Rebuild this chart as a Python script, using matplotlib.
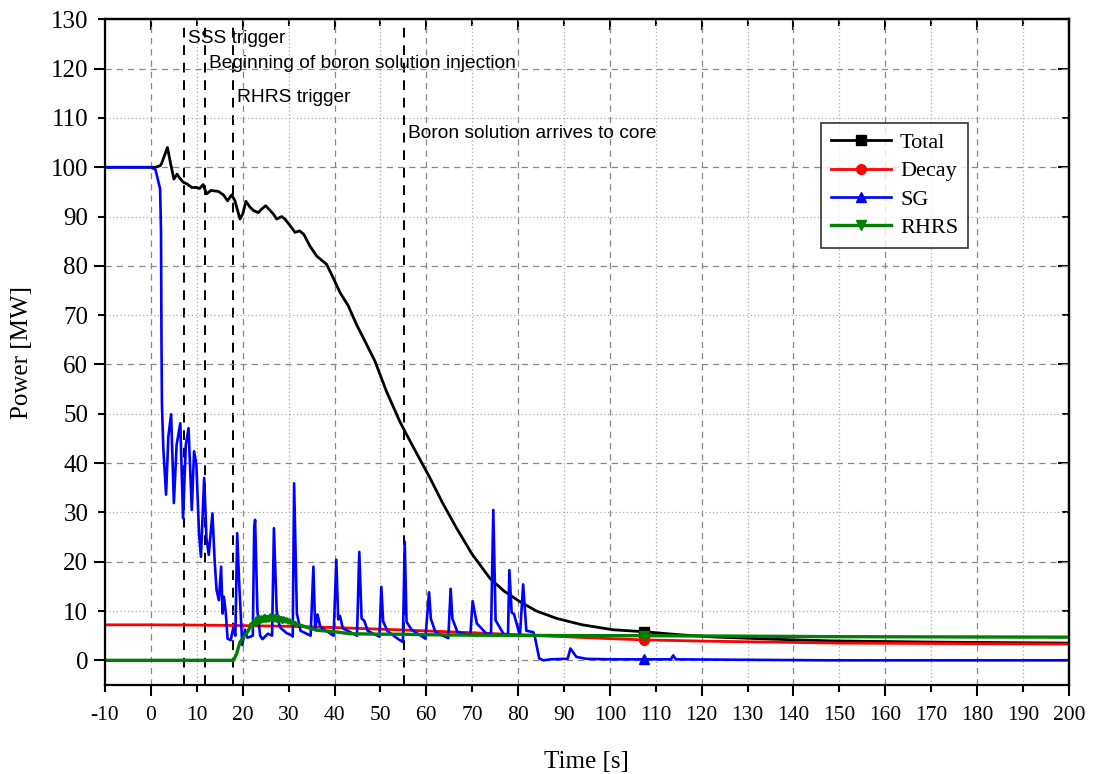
import numpy as np
import matplotlib
matplotlib.use('Agg')
import matplotlib.pyplot as plt
from matplotlib.ticker import MultipleLocator, FuncFormatter

# Total power
total_t = [-10, 0, 1, 2, 2.3, 3, 3.6, 4.3, 5, 5.7,
           6.2, 7, 7.9, 8.9, 9.9, 10.6, 11.4, 12.1, 13.1, 14.7,
           15.8, 16.7, 17.6, 18.3, 19.4, 20, 20.7, 21.6, 22.4, 23.4,
           24.1, 25, 26, 26.7, 27.4, 28.5, 29.2, 30.3, 31.4, 32.4,
           33.3, 34.6, 36.1, 38.3, 39.7, 41.2, 43, 44.8, 46.6, 48.8,
           51.3, 54.2, 55.3, 58, 60.8, 63.5, 66.6, 70, 73.9, 77,
           80.4, 84, 88.4, 94, 100.7, 107.5, 115, 122.5, 135, 148,
           170, 200]
total_v = [100, 100, 100, 100.3, 100.7, 102.5, 104, 100.7, 97.6, 98.6,
           97.9, 97, 96.6, 95.9, 95.9, 95.7, 96.5, 94.6, 95.3, 95.1,
           94.4, 93.2, 94.4, 93.2, 89.5, 90.5, 93.1, 91.9, 91.2, 90.8,
           91.5, 92.2, 91.2, 90.5, 89.5, 90, 89.5, 88.2, 86.8, 87.1,
           86.4, 84.1, 82, 80.3, 77.6, 74.6, 71.9, 68.1, 64.8, 60.7,
           54.6, 48.5, 46.5, 41.8, 37, 32, 26.8, 21.5, 16.6, 14,
           11.9, 10, 8.5, 7.2, 6.2, 5.8, 5.2, 4.75, 4.3, 3.95,
           3.7, 3.5]

# Decay heat
decay_t = [-10, 0, 10, 20, 30, 40, 55, 70, 80, 85, 100, 107.5, 120, 150, 175, 200]
decay_v = [7.2, 7.2, 7.15, 7.05, 6.9, 6.65, 6.15, 5.6, 5.2, 5.0, 4.4, 4.15, 3.9, 3.5, 3.4, 3.3]

# Steam generator
sg_t = [-10, 0, 1.0, 2.0, 2.2, 2.3, 2.4, 2.7, 3.3, 3.8,
        4.4, 5.0, 5.6, 6.4, 7.0, 7.6, 8.2, 8.9, 9.4, 9.9,
        10.5, 10.9, 11.6, 12.1, 12.6, 13.4, 13.9, 14.3, 14.8, 15.3,
        15.6, 15.9, 16.3, 16.7, 17.4, 17.9, 18.4, 18.8, 19.2, 19.9,
        20.5, 21.0, 21.7, 22.2, 22.5, 22.7, 23.2, 23.8, 24.3, 25.5,
        26.4, 26.8, 27.4, 28.1, 29.6, 30.6, 30.9, 31.2, 31.8, 32.6,
        34.8, 35.4, 35.8, 36.3, 36.9, 39.8, 40.4, 40.8, 41.2, 41.8,
        44.9, 45.4, 45.9, 46.5, 47.2, 49.8, 50.2, 50.6, 51.5, 53.6,
        54.9, 55.3, 55.7, 56.8, 59.8, 60.6, 61.0, 62.0, 64.8, 65.3,
        65.7, 66.8, 69.6, 70.1, 71.0, 73.1, 74.1, 74.6, 75.1, 76.8,
        77.8, 78.1, 78.6, 79.1, 80.4, 81.1, 81.8, 83.3, 83.6, 84.6,
        85.5, 87.0, 89.9, 90.8, 91.4, 92.7, 94.9, 100.7, 107.5, 113.3,
        113.8, 114.4, 148, 200]
sg_v = [100, 100, 99.5, 95.6, 87, 65, 52, 43, 33.6, 45.4,
        49.9, 31.9, 43.7, 48.1, 28.8, 43.7, 47.1, 30.5, 42.4, 39.7,
        25.4, 21.0, 37.0, 24.8, 21.4, 29.8, 20.0, 14.3, 12.2, 19.0,
        9.5, 12.9, 9.8, 4.4, 4.1, 6.4, 5.0, 25.8, 16.3, 3.1,
        6.2, 4.6, 4.8, 5.0, 26.8, 28.5, 10.0, 5.0, 4.3, 5.4,
        5.0, 26.8, 10.0, 6.7, 5.5, 5.1, 4.8, 35.9, 9.5, 6.0,
        5.0, 19.0, 6.2, 9.3, 6.8, 5.0, 20.4, 8.3, 9.0, 6.5,
        5.0, 22.0, 8.5, 8.0, 6.0, 4.8, 14.9, 7.9, 6.0, 4.5,
        3.7, 24.1, 7.8, 6.2, 4.4, 13.8, 8.4, 5.7, 4.5, 14.5,
        8.4, 5.7, 5.2, 12.0, 7.5, 5.4, 5.4, 30.5, 8.1, 5.4,
        5.0, 18.3, 9.7, 9.4, 5.0, 15.4, 6.0, 5.7, 5.0, 0.4,
        0.0, 0.2, 0.3, 0.3, 2.4, 0.7, 0.3, 0.2, 0.2, 0.2,
        1.0, 0.2, 0.0, 0.0]

# Residual heat removal system
rhrs_t = [-10, 18, 18.7, 19.4, 20.5, 21.2,
          21.5, 21.8, 22.1, 22.4, 22.7, 23.0, 23.3, 23.6, 23.9, 24.2,
          24.5, 24.8, 25.1, 25.4, 25.7, 26.0, 26.3, 26.6, 26.9, 27.2,
          27.5, 27.8, 28.1, 28.4, 28.7, 29.0, 29.3, 29.6, 29.9, 30.2,
          30.5, 30.8, 31.1, 31.4, 31.7, 32.0,
          33, 36.1, 40, 43.4, 50, 54.2, 60, 70, 80, 100, 107.5, 130, 148, 200]
rhrs_v = [0, 0, 1.4, 3.7, 5.1, 6.0,
          6.6, 7.4, 6.8, 8.1, 7.2, 8.6, 7.5, 8.9, 7.7, 8.8,
          7.9, 9.1, 7.9, 8.9, 8.0, 9.2, 8.1, 9.0, 8.0, 9.2,
          7.9, 8.9, 8.0, 8.7, 7.7, 8.6, 7.8, 8.4, 7.6, 8.2,
          7.5, 7.9, 7.3, 7.7, 7.1, 7.3,
          7.0, 6.1, 5.8, 5.4, 5.3, 5.3, 5.2, 5.1, 5.05, 5.0, 5.0, 4.9, 4.8, 4.7]

# events (time in s, label, label height)
event_t = [7.25, 11.8, 17.9, 55.1]
event_labels = ['SSS trigger', 'Beginning of boron solution injection',
                'RHRS trigger', 'Boron solution arrives to core']
event_label_y = [126.2, 121.0, 114.2, 106.9]

marker_time = 107.5

serif = 'Liberation Serif'
sans = 'Liberation Sans'

fig = plt.figure(figsize=(10.94, 7.74), dpi=100)
ax = fig.add_axes([0.096, 0.115, 0.881, 0.86])

series = [
    (total_t, total_v, 'black', 's', 'Total', 2.0),
    (decay_t, decay_v, 'red', 'o', 'Decay', 2.0),
    (sg_t, sg_v, 'blue', '^', 'SG', 1.9),
    (rhrs_t, rhrs_v, 'green', 'v', 'RHRS', 2.4),
]
for t, v, c, m, lab, lw in series:
    idx = t.index(marker_time)
    ax.plot(t, v, color=c, lw=lw, marker=m, markersize=7, markevery=[idx], label=lab)

for x, lab, y in zip(event_t, event_labels, event_label_y):
    ax.axvline(x, color='black', ls=(0, (5, 4)), lw=1.4, zorder=1)
    ax.text(x + 0.9, y, lab, fontsize=13.8, family=sans, va='center', ha='left')

ax.set_xlim(-10, 200)
ax.set_ylim(-5, 130)

fmt = FuncFormatter(lambda val, pos: '%d' % round(val))
for axis in [ax.xaxis, ax.yaxis]:
    axis.set_major_locator(MultipleLocator(20))
    axis.set_minor_locator(MultipleLocator(10))
    axis.set_major_formatter(fmt)
    axis.set_minor_formatter(fmt)

ax.grid(which='major', color='#888888', ls=(0, (5, 4)), lw=0.9)
ax.grid(which='minor', color='#aaaaaa', ls=(0, (1, 2)), lw=0.9)

# bottom / left: outward ticks with labels, labels aligned for major and minor
ax.tick_params(which='both', direction='out', width=1.5)
ax.tick_params(which='major', length=8)
ax.tick_params(which='minor', length=5)
ax.tick_params(axis='x', which='major', labelsize=15.5, pad=7)
ax.tick_params(axis='x', which='minor', labelsize=15.5, pad=10)
ax.tick_params(axis='y', which='major', labelsize=18, pad=4)
ax.tick_params(axis='y', which='minor', labelsize=18, pad=7)
for lab in ax.get_xticklabels(which='both') + ax.get_yticklabels(which='both'):
    lab.set_family(serif)

# top / right: inward ticks, no labels
top = ax.secondary_xaxis('top')
right = ax.secondary_yaxis('right')
for sec, axis in [(top, top.xaxis), (right, right.yaxis)]:
    axis.set_major_locator(MultipleLocator(20))
    axis.set_minor_locator(MultipleLocator(10))
    sec.tick_params(which='both', direction='in', width=1.5, labeltop=False, labelright=False)
    sec.tick_params(which='major', length=8)
    sec.tick_params(which='minor', length=5)
    for s in sec.spines.values():
        s.set_linewidth(1.6)

for s in ax.spines.values():
    s.set_linewidth(1.6)

ax.set_xlabel('Time [s]', family=serif, fontsize=18, labelpad=19)
ax.set_ylabel('Power [MW]', family=serif, fontsize=18, labelpad=13)

leg = ax.legend(loc='upper left', bbox_to_anchor=(0.743, 0.845), prop={'family': serif, 'size': 16},
                frameon=True, fancybox=False, edgecolor='black', handlelength=2.7,
                borderpad=0.45, labelspacing=0.35, handletextpad=0.4, borderaxespad=0)
leg.get_frame().set_linewidth(1.2)

fig.savefig('out.png', dpi=100)
